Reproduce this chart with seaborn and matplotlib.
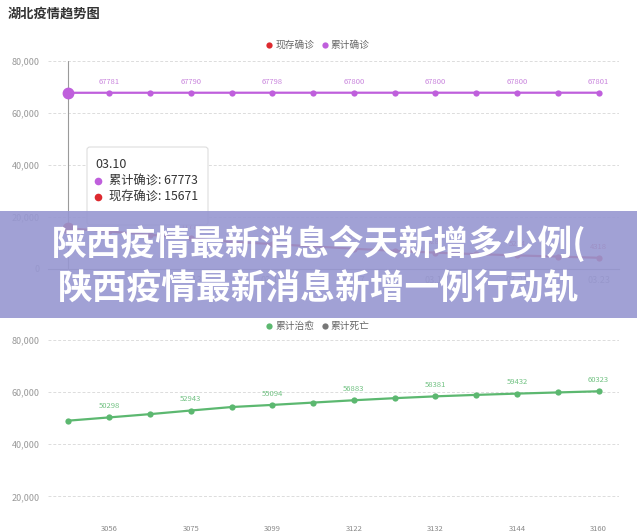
import numpy as np
import pandas as pd
import matplotlib
matplotlib.use("Agg")
import matplotlib.pyplot as plt
from matplotlib.lines import Line2D
from matplotlib.patches import Rectangle, FancyBboxPatch
import seaborn as sns

# data (Hubei, 03.10 - 03.23)
dates = ["03.10", "03.11", "03.12", "03.13", "03.14", "03.15", "03.16",
         "03.17", "03.18", "03.19", "03.20", "03.21", "03.22", "03.23"]
confirmed = [67773, 67781, 67786, 67790, 67794, 67798, 67799,
             67800, 67800, 67800, 67800, 67800, 67800, 67801]
current = [15671, 14427, 13171, 11772, 10431, 9605, 8701,
           7795, 6988, 6287, 5719, 5224, 4768, 4318]
cured = [49056, 50298, 51553, 52943, 54278, 55094, 55987,
         56883, 57682, 58381, 58942, 59432, 59879, 60323]
deaths = [3046, 3056, 3062, 3075, 3085, 3099, 3111,
          3122, 3130, 3132, 3139, 3144, 3153, 3160]

title = "湖北疫情趋势图"
banner = ["陕西疫情最新消息今天新增多少例(", "陕西疫情最新消息新增一例行动轨"]

sns.set_theme(style="white")
plt.rcParams['font.family'] = ['Noto Sans CJK SC', 'DejaVu Sans']

W, H = 637, 531
fig = plt.figure(figsize=(W / 100, H / 100), dpi=100)

def box(l, t, r, b):
    return [l / W, 1 - b / H, (r - l) / W, (b - t) / H]

def fx(p):
    return p / W

def fy(p):
    return 1 - p / H

colors = {"现存确诊": "#dd2a2f", "累计确诊": "#bf5fdc",
          "累计治愈": "#5cb870", "累计死亡": "#777777"}
label_colors = {"现存确诊": "#d9575b", "累计确诊": "#c985dd",
                "累计治愈": "#72c283", "累计死亡": "#8a8a8a"}

idx = np.arange(len(dates))
top_df = pd.concat([
    pd.DataFrame({"x": idx, "value": current, "series": "现存确诊"}),
    pd.DataFrame({"x": idx, "value": confirmed, "series": "累计确诊"}),
])
bot_df = pd.concat([
    pd.DataFrame({"x": idx, "value": cured, "series": "累计治愈"}),
    pd.DataFrame({"x": idx, "value": deaths, "series": "累计死亡"}),
])

ax1 = fig.add_axes(box(48, 61, 619, 269))
ax2 = fig.add_axes(box(48, 340, 619, 548.5))

for ax, df, names in [(ax1, top_df, ["现存确诊", "累计确诊"]),
                      (ax2, bot_df, ["累计治愈", "累计死亡"])]:
    sns.lineplot(data=df, x="x", y="value", hue="series", palette=colors,
                 hue_order=names, marker="o", markersize=4.5, markeredgewidth=0,
                 linewidth=1.6, legend=False, ax=ax, zorder=3)
    ax.set_xlim(-0.5, len(dates) - 0.5)
    ax.set_ylim(0, 80000)
    ax.set_yticks([0, 20000, 40000, 60000, 80000])
    ax.set_yticklabels([f"{v:,}" for v in [0, 20000, 40000, 60000, 80000]])
    ax.tick_params(axis="y", length=0, pad=6, labelsize=6.5, labelcolor="#999999")
    ax.grid(axis="y", color="#dcdcdc", linestyle=(0, (3, 2)), linewidth=0.7)
    ax.set_xlabel("")
    ax.set_ylabel("")
    for s in ["top", "right", "left"]:
        ax.spines[s].set_visible(False)
    ax.spines["bottom"].set_color("#9a9a9a")
    ax.spines["bottom"].set_linewidth(0.8)
    # data labels on every other point
    for name in names:
        vals = df[df["series"] == name]["value"].to_list()
        for i in range(1, len(vals), 2):
            ax.annotate(str(vals[i]), (i, vals[i]), xytext=(0, 8),
                        textcoords="offset points", ha="center", va="center",
                        fontsize=5.5, color=label_colors[name], zorder=4)

ax1.set_xticks(idx[1::2])
ax1.set_xticklabels(dates[1::2])
ax1.tick_params(axis="x", length=3, color="#9a9a9a", labelsize=6.5,
                labelcolor="#999999", pad=2)
ax2.set_xticks([])

# hovered state at 03.10
ax1.axvline(0, color="#9a9a9a", linewidth=0.8, zorder=2)
ax1.plot(0, confirmed[0], "o", color=colors["累计确诊"], markersize=7.5, zorder=5)
ax1.plot(0, current[0], "o", color=colors["现存确诊"], markersize=7.5, zorder=5)

# title and legends
fig.text(fx(8), fy(14), title, fontsize=9.5, fontweight="bold",
         color="#333333", ha="left", va="center")

def legend(ax, names, y):
    handles = [Line2D([], [], linestyle="none", marker="o", markersize=4.5,
                      markeredgewidth=0, color=colors[n]) for n in names]
    ax.legend(handles, names, loc="center", bbox_to_anchor=(fx(317), fy(y)),
              bbox_transform=fig.transFigure, ncol=2, frameon=False,
              fontsize=7, labelcolor="#666666", handletextpad=0.1,
              columnspacing=0.6, handlelength=1.0)

legend(ax1, ["现存确诊", "累计确诊"], 45)
legend(ax2, ["累计治愈", "累计死亡"], 326)

# tooltip
tip = FancyBboxPatch((fx(87), fy(225)), fx(208) - fx(87), fy(147) - fy(225),
                     boxstyle="round,pad=0,rounding_size=0.005",
                     transform=fig.transFigure, facecolor="white",
                     edgecolor="#dddddd", linewidth=0.8, zorder=2)
fig.patches.append(tip)
fig.text(fx(95), fy(165), dates[0], fontsize=9, color="#333333",
         ha="left", va="center", zorder=3)
fig.text(fx(109), fy(181), f"累计确诊: {confirmed[0]}", fontsize=8.8,
         color="#333333", ha="left", va="center", zorder=3)
fig.text(fx(109), fy(197), f"现存确诊: {current[0]}", fontsize=8.8,
         color="#333333", ha="left", va="center", zorder=3)
fig.lines.append(Line2D([fx(98)], [fy(181)], marker="o", markersize=5.5,
                        markeredgewidth=0, color=colors["累计确诊"],
                        transform=fig.transFigure, zorder=3))
fig.lines.append(Line2D([fx(98)], [fy(197)], marker="o", markersize=5.5,
                        markeredgewidth=0, color=colors["现存确诊"],
                        transform=fig.transFigure, zorder=3))

# banner overlay
fig.patches.append(Rectangle((0, fy(318)), 1, fy(211) - fy(318),
                             transform=fig.transFigure, facecolor="#9797d1",
                             alpha=0.9, edgecolor="none", zorder=5))
fig.text(fx(319), fy(243), banner[0], fontsize=25, fontweight="black",
         color="white", ha="center", va="center", zorder=6)
fig.text(fx(319), fy(289), banner[1], fontsize=25, fontweight="black",
         color="white", ha="center", va="center", zorder=6)

fig.savefig("out.png", dpi=100)
